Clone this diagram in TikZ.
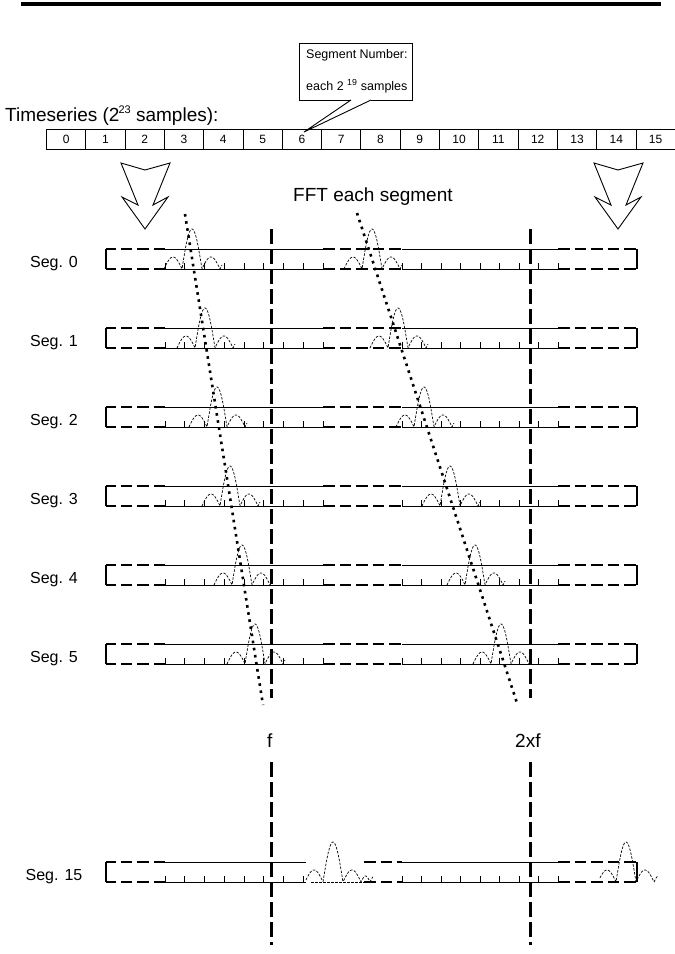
\documentclass[tikz,border=0pt]{standalone}
\usepackage{fontspec}
\setmainfont{Liberation Sans}
% peak shape: main lobe 20px wide, 40px tall; side lobes 18px wide, 12px tall; then small ripples
\newcommand\sincpk[4]{%
  \draw[sincline] plot[domain=#3:#4, samples=150]
   ({#1+\x},{#2-ifthenelse(abs(\x)<=10, 40*cos(9*\x),
        ifthenelse(abs(\x)<=28, 12*abs(sin(10*(abs(\x)-10))), 6*abs(sin(20*(abs(\x)-28)))))});}
\begin{document}
\begin{tikzpicture}[x=1pt,y=-1pt,
  thinl/.style={line width=0.9pt},
  thickdash/.style={line width=2.4pt, dash pattern=on 11.5pt off 5pt},
  bracketl/.style={line width=2.4pt},
  vline/.style={line width=2.4pt, dash pattern=on 15pt off 5pt},
  dotline/.style={line width=2.6pt, dash pattern=on 2.6pt off 4.6pt},
  sincline/.style={line width=0.7pt, dash pattern=on 2.5pt off 1.5pt},
  seglbl/.style={font=\fontsize{16}{19}\selectfont, inner sep=0, anchor=base},
  biglbl/.style={font=\fontsize{19}{22}\selectfont, inner sep=0, anchor=base west},
  cell/.style={draw, thinl, minimum width=39.3pt, minimum height=20pt, inner sep=0,
    anchor=north west, font=\fontsize{12}{14}\selectfont},
  bigarrow/.style={line width=0.9pt, line join=miter}]
\useasboundingbox (0,0) rectangle (675,954);

% top rule
\draw[line width=4pt] (21,4) -- (661,4);

% timeseries label
\node[biglbl] (ts) at (5,121) {Timeseries (2\kern-1pt\raisebox{0.42em}{\fontsize{11}{11}\selectfont 23} samples):};

% cells
\foreach \i in {0,...,15}
  \node[cell] (c\i) at ({46+39.3*\i},129) {\i};

% callout
\node[draw, thinl, minimum width=113pt, minimum height=57pt, anchor=north west, inner sep=0] (callout) at (299,43) {};
\node[anchor=base west, inner sep=0, font=\fontsize{12.5}{15}\selectfont] (cl1) at (306,58) {Segment Number:};
\node[anchor=base west, inner sep=0, font=\fontsize{12.5}{15}\selectfont] (cl2) at (306,90) {each 2 \textsuperscript{19} samples};
\coordinate (pa) at (351,100);
\coordinate (pb) at (371,100);
\coordinate (tip) at (304,132);
\draw[white, line width=1.5pt] (pa) -- (pb);
\draw[thinl, line join=miter] (pa) -- (tip) -- (pb);

% big outline arrows
\draw[bigarrow] (121,163) -- (145,170) -- (170,163) -- (153,205) -- (168,197) -- (145,229) -- (122,197) -- (138,205) -- cycle;
\draw[bigarrow] (594,163) -- (618,170) -- (643,163) -- (626,205) -- (641,197) -- (618,229) -- (595,197) -- (611,205) -- cycle;

\node[biglbl] (fft) at (293,201) {FFT each segment};

% segment rows 0..5
\foreach \k/\yc/\pa/\pb in {0/259/192/372, 1/338/205/398, 2/417/217/424, 3/496/230/450, 4/575/242/475, 5/654/255/501}{
  \node[seglbl] (s\k) at (54,\yc+8.5) {Seg. \k};
  \draw[bracketl] (106,\yc-10) -- (106,\yc+10);
  \draw[thickdash] (165,\yc-10) -- (106,\yc-10);
  \draw[thickdash] (165,\yc+10) -- (106,\yc+10);
  \draw[thinl] (165,\yc-10) -- (323,\yc-10);
  \draw[thinl] (165,\yc+10) -- (323,\yc+10);
  \foreach \t in {0,...,8} \draw[thinl] ({165+19.75*\t},\yc+10) -- ++(0,-6);
  \draw[thickdash] (323,\yc-10) -- (402,\yc-10);
  \draw[thickdash] (323,\yc+10) -- (402,\yc+10);
  \draw[thinl] (402,\yc-10) -- (558,\yc-10);
  \draw[thinl] (402,\yc+10) -- (558,\yc+10);
  \foreach \t in {0,...,8} \draw[thinl] ({402+19.5*\t},\yc+10) -- ++(0,-6);
  \draw[thickdash] (558,\yc-10) -- (637,\yc-10);
  \draw[thickdash] (558,\yc+10) -- (637,\yc+10);
  \draw[bracketl] (637,\yc-10) -- (637,\yc+10);
  \sincpk{\pa}{\yc+10}{-28}{30}
  \sincpk{\pb}{\yc+10}{-28}{30}
}

% segment 15
\def\yc{872}
\node[seglbl] (s15) at (54,\yc+8.5) {Seg. 15};
\draw[bracketl] (106,\yc-10) -- (106,\yc+10);
\draw[thickdash] (165,\yc-10) -- (106,\yc-10);
\draw[thickdash] (165,\yc+10) -- (106,\yc+10);
\draw[thinl] (165,\yc-10) -- (306,\yc-10);
\draw[thinl] (165,\yc+10) -- (306,\yc+10);
\foreach \t in {0,...,7} \draw[thinl] ({165+19.75*\t},\yc+10) -- ++(0,-6);
\draw[sincline] (311,\yc+10) -- (364,\yc+10);
\draw[thickdash] (364,\yc-10) -- (402,\yc-10);
\draw[thickdash] (364,\yc+10) -- (402,\yc+10);
\draw[thinl] (402,\yc-10) -- (558,\yc-10);
\draw[thinl] (402,\yc+10) -- (558,\yc+10);
\foreach \t in {0,...,8} \draw[thinl] ({402+19.5*\t},\yc+10) -- ++(0,-6);
\draw[thickdash] (558,\yc-10) -- (637,\yc-10);
\draw[thickdash] (558,\yc+10) -- (637,\yc+10);
\draw[bracketl] (637,\yc-10) -- (637,\yc+10);
\sincpk{333}{\yc+10}{-27}{40}
\sincpk{626}{\yc+10}{-26}{32}

% frequency lines
\coordinate (f1t) at (271.5,229); \coordinate (f1b) at (271.5,698);
\coordinate (f2t) at (530.5,229); \coordinate (f2b) at (530.5,698);
\coordinate (f1lt) at (271.5,762); \coordinate (f1lb) at (271.5,945);
\coordinate (f2lt) at (530.5,762); \coordinate (f2lb) at (530.5,945);
\draw[vline] (f1t) -- (f1b);
\draw[vline] (f2t) -- (f2b);
\draw[vline] (f1lt) -- (f1lb);
\draw[vline] (f2lt) -- (f2lb);

% dotted drift lines
\coordinate (d1t) at (185,214); \coordinate (d1b) at (263,705);
\coordinate (d2t) at (357,213); \coordinate (d2b) at (517,703);
\draw[dotline] (d1t) -- (d1b);
\draw[dotline] (d2t) -- (d2b);

\node[biglbl] (flbl) at (267,747) {f};
\node[biglbl] (f2lbl) at (515,747) {2xf};
\end{tikzpicture}
\end{document}
